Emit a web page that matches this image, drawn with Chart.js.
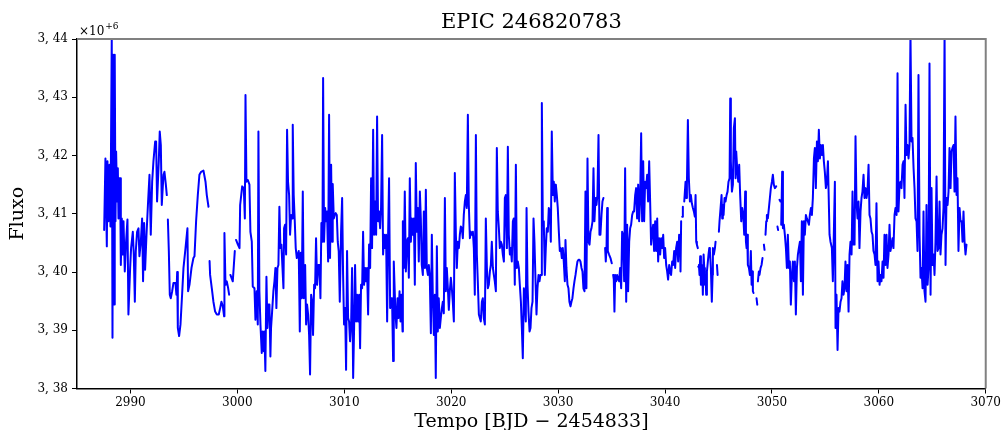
<!DOCTYPE html>
<html>
<head>
<meta charset="utf-8">
<script src="https://cdn.jsdelivr.net/npm/chart.js@4.4.1/dist/chart.umd.min.js"></script>
<style>
  html, body { margin: 0; padding: 0; background: #fff; }
  #wrap { width: 1003px; height: 430px; }
</style>
</head>
<body>
<div id="wrap"><canvas id="c" width="1003" height="430"></canvas></div>
<script>
// ---------------- data (flux in units of 10^6) ----------------
const chartTitle = 'EPIC 246820783';
const xLabel = 'Tempo [BJD − 2454833]';
const yLabel = 'Fluxo';
const xTicks = [2990, 3000, 3010, 3020, 3030, 3040, 3050, 3060, 3070];
const yTicks = [3.38, 3.39, 3.40, 3.41, 3.42, 3.43, 3.44];

const tempoA = [2987.54,2987.66,2987.79,2987.85,2987.94,2988.04,2988.13,2988.25,2988.32,2988.38,
2988.47,2988.53,2988.60,2988.66,2988.75,2988.82,2988.88,2988.94,2989.03,2989.10,
2989.19,2989.28,2989.35,2989.47,2989.59,2989.72,2989.81,2989.97,2990.06,2990.22,
2990.31,2990.41,2990.50,2990.62,2990.75,2990.84,2990.97,2991.09,2991.18,2991.28,
2991.37,2991.50,2991.65,2991.78,2991.90,2992.03,2992.15,2992.31,2992.40,2992.49,
2992.65,2992.74,2992.84,2992.93,2993.09,2993.18,2993.31,2993.40];
const fluxoA = [3.4072,3.4195,3.4044,3.4190,3.4087,3.4184,3.4078,3.4401,3.3887,3.4373,
3.3944,3.4373,3.4087,3.4207,3.4121,3.4178,3.4092,3.4161,3.4161,3.4012,
3.4092,3.4030,3.4087,3.4001,3.4052,3.4090,3.3927,3.4007,3.4041,3.4069,
3.4030,3.3949,3.4036,3.4069,3.4075,3.4027,3.4052,3.4092,3.3984,3.4084,
3.4004,3.4064,3.4121,3.4167,3.4064,3.4155,3.4190,3.4224,3.4224,3.4121,
3.4190,3.4241,3.4218,3.4115,3.4167,3.4172,3.4150,3.4132];

const tempoB = [2993.50,2993.59,2993.68,2993.77,2993.90,2994.02,2994.21,2994.30,2994.37,2994.43,
2994.55,2994.68,2994.83,2994.96,2995.15,2995.33,2995.39,2995.52,2995.71,2995.89,
2995.99,2996.14,2996.30,2996.45,2996.61,2996.83,2997.02,2997.14,2997.30];
const fluxoB = [3.4090,3.4036,3.3961,3.3955,3.3967,3.3981,3.3981,3.3961,3.4000,3.3904,
3.3890,3.3910,3.3961,3.4007,3.4041,3.4075,3.3967,3.3978,3.4007,3.4024,
3.4027,3.4087,3.4132,3.4167,3.4172,3.4174,3.4155,3.4132,3.4112];

const tempoC = [2997.40,2997.45,2997.61,2997.76,2997.92,2998.08,2998.26,2998.39,2998.51,2998.64,
2998.76,2998.79,2998.89,2999.01,2999.14,2999.23];
const fluxoC = [3.4019,3.3995,3.3972,3.3949,3.3932,3.3927,3.3927,3.3938,3.3949,3.3941,
3.3924,3.4067,3.3978,3.3984,3.3972,3.3961];

const tempoD = [2999.35,2999.57,2999.76];
const fluxoD = [3.3995,3.3984,3.4036];

const tempoE = [2999.88,3000.05,3000.20,3000.26,3000.45,3000.60,3000.70,3000.76,3000.85,3000.98,3001.13,
3001.22,3001.35,3001.44,3001.60,3001.69,3001.81,3001.91,3001.97,3002.06,3002.16,
3002.28,3002.37,3002.47,3002.53,3002.62,3002.72,3002.81,3002.91,3003.00,3003.09,
3003.15,3003.25,3003.37,3003.47,3003.56,3003.65,3003.75,3003.84,3003.93,3004.03,
3004.12,3004.22,3004.31,3004.37,3004.46,3004.56,3004.65,3004.74,3004.84,3004.93,
3005.03,3005.12,3005.18,3005.27,3005.37,3005.46,3005.56,3005.65,3005.74,3005.84,
3005.93,3006.02,3006.12,3006.21,3006.34,3006.43,3006.52,3006.62,3006.71,3006.80,
3006.90,3006.99,3007.08,3007.18,3007.27,3007.36,3007.46,3007.58,3007.68,3007.77,
3007.86,3007.96,3008.02,3008.11,3008.21,3008.30,3008.39,3008.49,3008.58,3008.67,
3008.77,3008.86,3008.92,3009.02,3009.11,3009.20,3009.30,3009.39,3009.48,3009.58,
3009.70,3009.80,3009.89,3009.98,3010.08,3010.17,3010.26,3010.36,3010.45,3010.54,
3010.64,3010.73,3010.83,3010.92,3011.01,3011.11,3011.20,3011.29,3011.39,3011.48,
3011.57,3011.67,3011.76,3011.85,3011.95,3012.04,3012.13,3012.23,3012.32,3012.42,
3012.51,3012.60,3012.70,3012.79,3012.88,3012.98,3013.07,3013.16,3013.26,3013.35,
3013.44,3013.54,3013.63,3013.73,3013.82,3013.91,3014.01,3014.10,3014.19,3014.29,
3014.38,3014.47,3014.57,3014.63,
3014.79,3014.88,3014.98,3015.07,3015.17,3015.26,3015.35,3015.45,3015.48,3015.57,
3015.66,3015.76,3015.85,3015.95,3016.04,3016.13,3016.23,3016.32,3016.41,3016.51,
3016.60,3016.69,3016.79,3016.88,3016.97,3017.07,3017.16,3017.25,3017.35,3017.44,
3017.54,3017.63,3017.72,3017.82,3017.91,3018.00,3018.10,3018.19,3018.28,3018.38,
3018.47,3018.56,3018.66,3018.75,3018.84,3018.94,3019.03,3019.13,3019.22,3019.31,
3019.41,3019.50,3019.59,3019.69,3019.78,3019.87,3019.97,3020.06,3020.15,3020.25,
3020.34,3020.44,3020.53,3020.62,3020.72,3020.81,3020.90,3021.00,3021.09,3021.18,
3021.28,3021.37,3021.46,3021.56,3021.65,3021.75,3021.84,3021.93,3022.03,3022.12,
3022.21,3022.31,3022.40,3022.49,3022.59,3022.68,3022.77,3022.87,3022.96,3023.05,
3023.15,3023.24,3023.34,3023.43,3023.52,3023.62,3023.71,3023.80,3023.90,3023.99,
3024.08,3024.18,3024.27,3024.36,3024.46,3024.55,3024.64,3024.74,3024.83,3024.93,
3025.02,3025.11,3025.21,3025.30,3025.39,3025.49,3025.58,3025.67,3025.77,3025.86,
3025.95,3026.05,3026.14,3026.23,3026.33,3026.42,3026.52,3026.61,3026.70,3026.80,
3026.89,3026.98,3027.05,3027.14,3027.23,3027.33,3027.42,3027.51,3027.61,3027.70,
3027.79,3027.89,3027.98,3028.07,3028.17,
3028.26,3028.35,3028.44,3028.48,3028.57,3028.66,3028.76,3028.85,3028.94,3029.04,
3029.13,3029.22,3029.32,3029.41,3029.51,3029.60,3029.69,3029.79,3029.88,3029.97,
3030.07,3030.16,3030.25,3030.35,3030.44,3030.53,3030.63,3030.69,3030.78,3030.88,
3030.97,3031.06,3031.16,3031.25,3031.34,3031.44,3031.53,3031.63,3031.72,3031.81,
3031.91,3032.00,3032.09,3032.19,3032.28,3032.37,3032.47,3032.56,3032.65,3032.75,
3032.84,3032.94,3033.03,3033.12,3033.22,3033.31,3033.40,3033.50,3033.59,3033.68,
3033.78,3033.87,3033.96,3034.06,3034.15,3034.24];
const fluxoE = [3.4055,3.4047,3.4041,3.4115,3.4147,3.4144,3.4092,3.4304,3.4155,3.4158,3.4150,
3.4069,3.4052,3.3975,3.3972,3.3918,3.3967,3.3910,3.4241,3.3967,3.3910,
3.3861,3.3898,3.3864,3.3898,3.3830,3.3992,3.3904,3.3944,3.3944,3.3855,
3.3904,3.3932,3.3967,3.3984,3.4007,3.3938,3.4007,3.4012,3.4112,3.4041,
3.4047,3.4007,3.3972,3.4075,3.4081,3.4030,3.4244,3.4155,3.4132,3.4064,
3.4098,3.4092,3.4253,3.4132,3.4087,3.4041,3.4024,3.4030,3.4036,3.3898,
3.4033,3.3955,3.4138,3.3955,3.4012,3.3910,3.3944,3.3927,3.3892,3.3824,
3.3961,3.3949,3.3892,3.3978,3.3972,3.4058,3.3978,3.4012,3.4012,3.3955,
3.4084,3.4052,3.4333,3.4052,3.4110,3.4087,3.4104,3.4018,3.4270,3.4024,
3.4184,3.4052,3.4151,3.4092,3.4098,3.4101,3.4098,3.4052,3.4036,3.3949,
3.4069,3.4127,3.3995,3.3910,3.3938,3.3832,3.4036,3.3921,3.3915,3.3881,
3.3910,3.4007,3.3818,3.3904,3.4012,3.3915,3.3961,3.3915,3.3961,3.3869,
3.3978,3.3972,3.4069,3.3978,3.4007,3.3984,3.4007,3.3927,3.4047,3.4007,
3.4161,3.4041,3.4244,3.4064,3.4121,3.4064,3.4267,3.4087,3.4104,3.4075,
3.4110,3.4235,3.4030,3.4064,3.4041,3.4064,3.3915,3.4064,3.4161,3.3938,
3.3955,3.3955,3.3847,3.4018,
3.3927,3.3904,3.3955,3.3921,3.3967,3.3915,3.3961,3.3898,3.4087,3.4007,
3.4138,3.4001,3.4052,3.4058,3.3990,3.4161,3.4052,3.4092,3.4064,3.4092,
3.3978,3.4187,3.4069,3.4110,3.4018,3.4138,3.4092,3.4012,3.3995,3.4104,
3.4007,3.4141,3.4007,3.3995,3.4012,3.3990,3.3895,3.4064,3.3961,3.3892,
3.3961,3.3818,3.4044,3.3898,3.3955,3.3904,3.3921,3.3938,3.3949,3.3929,
3.4127,3.3967,3.4007,3.3972,3.3935,3.3967,3.3990,3.3972,3.3949,3.3915,
3.4170,3.4064,3.4007,3.4052,3.4041,3.4064,3.4078,3.4075,3.4058,3.4098,
3.4121,3.4132,3.4110,3.4270,3.4115,3.4058,3.4069,3.4064,3.4069,3.4041,
3.3961,3.4235,3.4030,3.3984,3.3927,3.3921,3.3915,3.3949,3.3955,3.3921,
3.3910,3.4092,3.4007,3.3972,3.3978,3.4001,3.4012,3.4052,3.4007,3.3995,
3.3984,3.3967,3.4213,3.4104,3.4075,3.4041,3.4052,3.4047,3.4030,3.4018,
3.4127,3.4132,3.4041,3.4215,3.4064,3.4030,3.4041,3.4018,3.4087,3.4092,
3.3978,3.4184,3.4007,3.4018,3.4007,3.3978,3.3949,3.3904,3.3852,3.3972,
3.3949,3.3915,3.4110,3.3978,3.3932,3.3898,3.3904,3.3938,3.3949,3.4092,
3.4052,3.3984,3.3927,3.3972,3.3995,
3.3984,3.3995,3.3995,3.4290,3.4087,3.4087,3.3995,3.4041,3.4075,3.4069,
3.4110,3.4104,3.4052,3.4241,3.4132,3.4155,3.4121,3.4150,3.4132,3.4110,
3.4069,3.4036,3.4041,3.4024,3.4041,3.4018,3.3984,3.4055,3.4007,3.3978,
3.3972,3.3949,3.3941,3.3949,3.3955,3.3972,3.3984,3.3995,3.4007,3.4018,
3.4021,3.4021,3.4018,3.4007,3.4001,3.3972,3.3967,3.4138,3.3972,3.4195,
3.4052,3.4047,3.4069,3.4075,3.4087,3.4178,3.4087,3.4127,3.4115,3.4132,
3.4235,3.4064,3.4064,3.4098,3.4121,3.4127];

const tempoF = [3034.40,3034.46,3034.53,3034.59,3034.65,3034.77,3034.90,3035.02];
const fluxoF = [3.4041,3.4018,3.4041,3.4110,3.4036,3.4030,3.4024,3.4015];

const tempoG = [3035.15,3035.21,3035.27,3035.34,3035.43,3035.52,3035.62,3035.71,3035.80,3035.90,
3035.99,3036.08,3036.18,3036.27,3036.37,3036.46,3036.55,3036.65,3036.74,3036.83,
3036.93,3037.02,3037.11,3037.21,3037.30,3037.39,3037.49,3037.58,3037.67,3037.77,
3037.86,3037.96,3038.05,3038.14,3038.24,3038.33,3038.42,3038.52,3038.61,3038.70,
3038.80,3038.89,3038.98,3039.08,3039.17,3039.27,3039.36,3039.45,3039.55,3039.64,
3039.73,3039.83,3039.92,3040.01,3040.11,3040.20,3040.29,3040.39,3040.48,3040.57,
3040.67,3040.76,3040.86,3040.95,3041.04,3041.14,3041.23,3041.32,3041.42,3041.45,3041.51];
const fluxoG = [3.3995,3.3987,3.3932,3.3995,3.3984,3.3995,3.3987,3.3984,3.4007,3.3972,
3.4069,3.4064,3.3984,3.4178,3.3949,3.4081,3.3967,3.4052,3.4075,3.4081,
3.4098,3.4104,3.4104,3.4132,3.4144,3.4092,3.4150,3.4087,3.4121,3.4238,
3.4087,3.4190,3.4087,3.4155,3.4144,3.4167,3.4121,3.4190,3.4121,3.4047,
3.4069,3.4081,3.4036,3.4087,3.4036,3.4092,3.4018,3.4058,3.4030,3.4058,
3.4041,3.4064,3.4024,3.4041,3.4012,3.4001,3.3987,3.4012,3.4001,3.3995,
3.4018,3.4012,3.4036,3.4007,3.4041,3.4052,3.4018,3.4064,3.4052,3.4001,3.4087];

// fragmented stretch (null = gap in the light curve)
const tempoH = [3041.57,3041.61,3041.67,3041.73,
3041.80,3041.92,3041.98,3042.05,3042.14,3042.23,3042.33,3042.42,3042.51,3042.61,3042.70,3042.79,3042.86,3042.92,3042.98,3043.07,
3043.09,
3043.11,3043.17,3043.23,3043.29,3043.36,3043.42,3043.48,3043.54,3043.61,3043.67,3043.73,3043.79,3043.85,3043.92,3043.98,3044.07,3044.14,3044.20,3044.29,3044.38,3044.45,3044.48,3044.57,3044.67,3044.73,
3044.80,3044.86,3044.92,3044.98,
3045.04,3045.10,3045.20,3045.29,3045.35,3045.41,3045.48,3045.57,3045.66,3045.76,
3045.85,3045.94,3046.04,3046.10,3046.16,3046.26,3046.35,3046.44,3046.54,3046.60,
3046.66,3046.75,3046.85,3046.94,3047.03,3047.13,3047.22,3047.32,3047.41,3047.50,
3047.57,3047.63,3047.69,3047.75,3047.85,3047.94,3048.03,3048.10,3048.19,3048.22,3048.28,
3048.40,3048.56,3048.63,3048.66,
3048.69,3048.78,3048.84,3048.94,3049.03,3049.12,
3049.18,3049.25,3049.31,3049.35,
3049.40,3049.47,3049.53,3049.62,3049.72,3049.81,3049.90,3050.00,3050.09,3050.18,3050.28,3050.40,
3050.45,3050.52,3050.58,3050.63,3050.71,3050.80];
const fluxoH = [null,3.4095,3.4112,null,
3.4121,3.4155,3.4127,3.4150,3.4261,3.4161,3.4121,3.4132,3.4118,3.4110,3.4104,3.4095,3.4132,3.4052,3.4047,3.4041,
null,
3.4009,3.4012,3.3995,3.4027,3.3978,3.4012,3.4007,3.3961,3.4030,3.4007,3.3978,3.3995,3.3961,3.4001,3.4012,3.4030,3.4041,3.4036,3.4007,3.3949,3.3995,3.4041,3.4030,3.4041,3.4052,
null,3.4012,3.3995,null,
3.4069,3.4087,3.4110,3.4132,3.4092,3.4115,3.4098,3.4127,3.4121,3.4132,
3.4138,3.4155,3.4161,3.4298,3.4190,3.4138,3.4150,3.4247,3.4264,3.4161,
3.4207,3.4178,3.4155,3.4184,3.4132,3.4087,3.4110,3.4098,3.4064,3.4138,
3.4052,3.4041,3.4064,3.4012,3.4007,3.3995,3.4036,3.3978,3.4001,3.3967,3.3964,
null,3.3955,3.3944,null,
3.3984,3.4001,3.3995,3.4007,3.4012,3.4024,
null,3.4047,3.4038,null,
3.4064,3.4087,3.4098,3.4092,3.4110,3.4127,3.4144,3.4155,3.4167,3.4150,3.4144,3.4147,
null,3.4078,3.4072,null,3.4124,3.4121];

const tempoI = [3050.87,3050.96,3051.03,3051.12,3051.21,3051.31,3051.40,3051.49,3051.59,3051.68,
3051.77,3051.87,3051.96,3052.06,3052.15,3052.24,3052.34,3052.43,3052.52,3052.62,
3052.71,3052.80,3052.90,3052.99,3053.08,3053.18,3053.27,3053.36,3053.46,3053.55,
3053.65,3053.74,3053.83,3053.93,3054.02,3054.11,3054.21,3054.30,3054.39,3054.49,
3054.58,3054.67,3054.77,3054.86,3054.95,3055.05,3055.14,3055.24,
3055.39,3055.48,3055.61,3055.70,3055.79,3055.89,3055.95,3056.04,3056.14,3056.23,
3056.32,3056.42,3056.51,3056.60,3056.70,3056.79,3056.88,3056.98,3057.07,3057.17,
3057.26,3057.35,3057.45,3057.54,3057.63,3057.73,3057.82,3057.91,3058.01,3058.10,
3058.19,3058.29,3058.38,3058.47,3058.57,3058.66,3058.76,3058.85,3058.94,3059.04,
3059.13,3059.22,3059.32,3059.41,3059.50,3059.60,3059.69,3059.78,3059.88,3059.97,
3060.07,3060.16,3060.25,3060.35,3060.44,3060.53,3060.63,3060.72,3060.81,3060.91,
3061.00,3061.09,3061.19,3061.28,3061.37,3061.47,3061.56,3061.66,3061.75,3061.84,
3061.94,3062.03,3062.12,3062.22,3062.31,3062.40,3062.50,3062.59,3062.68,3062.78,
3062.87,3062.96,3063.06,3063.15,3063.25,3063.34,3063.43,3063.53,3063.62,3063.71,
3063.81,3063.90,3063.99,3064.09,3064.18,3064.27,3064.37,3064.46,3064.56,3064.65,
3064.74,3064.84,3064.93,3065.02,3065.12,3065.21,3065.30,3065.40,3065.49,3065.58,
3065.68,3065.77,3065.86,3065.96,3066.05,3066.15,3066.24,3066.33,3066.43,3066.52,
3066.61,3066.71,3066.80,3066.89,3066.99,3067.08,3067.17,3067.27,3067.36,3067.45,
3067.55,3067.64,3067.74,3067.83,3067.92,3068.02,3068.11,3068.20];
const fluxoI = [3.4081,3.4172,3.4075,3.4081,3.4064,3.4041,3.4007,3.4064,3.4007,3.4018,
3.3944,3.3995,3.4018,3.3984,3.4018,3.3927,3.4007,3.4030,3.4041,3.4052,
3.3984,3.4087,3.3961,3.4087,3.4064,3.4098,3.4092,3.4087,3.4081,3.4098,
3.4110,3.4098,3.4127,3.4195,3.4213,3.4144,3.4224,3.4190,3.4244,3.4195,
3.4218,3.4201,3.4218,3.4190,3.4172,3.4144,3.4155,3.4190,
3.4064,3.4052,3.4041,3.3984,3.4064,3.4155,3.3904,3.3961,3.3866,3.3938,
3.3932,3.3949,3.3955,3.3984,3.3961,3.3972,3.4018,3.3967,3.4012,3.3932,
3.4030,3.4052,3.4030,3.4138,3.4047,3.4047,3.4233,3.4121,3.4092,3.4121,
3.4041,3.4104,3.4127,3.4138,3.4167,3.4127,3.4144,3.4127,3.4138,3.4184,
3.4098,3.4092,3.4069,3.4064,3.4036,3.4030,3.4012,3.4118,3.3984,3.4018,
3.3978,3.3995,3.3984,3.4018,3.3990,3.4064,3.4012,3.4064,3.4007,3.4030,
3.4081,3.4036,3.4047,3.4058,3.4041,3.4098,3.4110,3.4098,3.4341,3.4104,
3.4150,3.4155,3.4144,3.4184,3.4190,3.4127,3.4287,3.4201,3.4218,3.4195,
3.4218,3.4410,3.4224,3.4230,3.4178,3.4144,3.4092,3.4087,3.4036,3.4338,
3.4064,3.3990,3.4007,3.3972,3.4104,3.3967,3.3949,3.4115,3.3978,3.4007,
3.4358,3.3961,3.4144,3.4012,3.4030,3.3995,3.4052,3.4164,3.4036,3.4041,
3.4121,3.4030,3.4064,3.4075,3.4110,3.4410,3.4012,3.4127,3.4115,3.4138,
3.4213,3.4144,3.4207,3.4213,3.4218,3.4138,3.4267,3.4132,3.4161,3.4036,
3.4110,3.4087,3.4087,3.4052,3.4104,3.4052,3.4030,3.4047];

// ---------------- build points, gaps between pieces ----------------
const pieces = [
  ['A', tempoA, fluxoA], ['B', tempoB, fluxoB], ['C', tempoC, fluxoC], ['D', tempoD, fluxoD],
  ['E', tempoE, fluxoE], ['F', tempoF, fluxoF], ['G', tempoG, fluxoG], ['H', tempoH, fluxoH],
  ['I', tempoI, fluxoI]
];
const points = [];
pieces.forEach(([name, t, f], k) => {
  if (t.length !== f.length) throw new Error('length mismatch in ' + name + ': ' + t.length + ' vs ' + f.length);
  if (k > 0) points.push({ x: t[0] - 0.02, y: null });
  for (let i = 0; i < t.length; i++) points.push({ x: t[i], y: f[i] });
});

const FONT = "'DejaVu Serif', 'Liberation Serif', serif";

const framePlugin = {
  id: 'frame',
  afterDraw(chart) {
    const { ctx, chartArea: a } = chart;
    ctx.save();
    ctx.strokeStyle = '#808080';
    ctx.lineWidth = 2;
    ctx.beginPath();
    ctx.moveTo(a.left, a.top);
    ctx.lineTo(a.right, a.top);
    ctx.lineTo(a.right, a.bottom);
    ctx.stroke();
    // offset label of the y axis
    ctx.fillStyle = '#000';
    ctx.textBaseline = 'alphabetic';
    ctx.textAlign = 'left';
    ctx.font = "12px " + FONT;
    ctx.fillText('×10', a.left + 2, a.top - 4);
    const w = ctx.measureText('×10').width;
    ctx.font = "9px " + FONT;
    ctx.fillText('+6', a.left + 2 + w + 1, a.top - 10);
    ctx.restore();
  }
};

new Chart(document.getElementById('c'), {
  type: 'line',
  data: {
    datasets: [{
      data: points,
      borderColor: '#0000ff',
      borderWidth: 2,
      pointRadius: 0,
      tension: 0,
      spanGaps: false,
      fill: false,
      borderJoinStyle: 'round',
      borderCapStyle: 'round'
    }]
  },
  options: {
    responsive: false,
    animation: false,
    events: [],
    layout: { padding: { left: 0, right: 17, top: 0, bottom: 0 } },
    plugins: {
      legend: { display: false },
      tooltip: { enabled: false },
      title: {
        display: true,
        fullSize: false,
        text: chartTitle,
        color: '#000',
        font: { family: FONT, size: 21, weight: 'normal', lineHeight: 1.2 },
        padding: { top: 10, bottom: 3.8 }
      }
    },
    scales: {
      x: {
        type: 'linear',
        min: 2985,
        max: 3070,
        afterFit: s => { s.height = 41.5; },
        afterBuildTicks: s => { s.ticks = xTicks.map(v => ({ value: v })); },
        ticks: {
          color: '#000',
          font: { family: FONT, size: 12 },
          padding: 2,
          maxRotation: 0,
          autoSkip: false,
          callback: v => String(v)
        },
        grid: { drawOnChartArea: false, drawTicks: true, tickLength: 5, color: '#000', lineWidth: 1 },
        border: { color: '#000', width: 1.5 },
        title: {
          display: true,
          text: xLabel,
          color: '#000',
          font: { family: FONT, size: 19, lineHeight: 0.8 },
          padding: { top: 0, bottom: 0 }
        }
      },
      y: {
        min: 3.38,
        max: 3.44,
        afterFit: s => { s.width = 77; },
        afterBuildTicks: s => { s.ticks = yTicks.map(v => ({ value: v })); },
        ticks: {
          color: '#000',
          font: { family: FONT, size: 12 },
          padding: 4,
          autoSkip: false,
          callback: v => v.toFixed(2).replace('.', ', ')
        },
        grid: { drawOnChartArea: false, drawTicks: true, tickLength: 5, color: '#000', lineWidth: 1 },
        border: { color: '#000', width: 1.5 },
        title: {
          display: true,
          text: yLabel,
          color: '#000',
          font: { family: FONT, size: 19, lineHeight: 1.2 },
          padding: { top: 7, bottom: 0 }
        }
      }
    }
  },
  plugins: [framePlugin]
});
</script>
</body>
</html>
